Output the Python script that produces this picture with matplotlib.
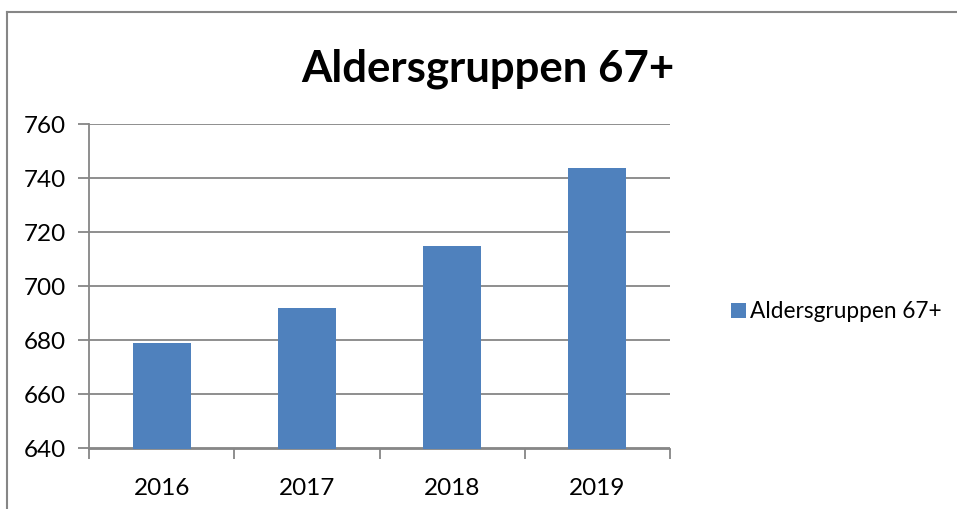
import matplotlib
matplotlib.use("Agg")
import matplotlib.pyplot as plt
from matplotlib.lines import Line2D

years = ["2016", "2017", "2018", "2019"]
values = [679, 692, 715, 744]
series_name = "Aldersgruppen 67+"
y_ticks = [640, 660, 680, 700, 720, 740, 760]

plt.rcParams['font.family'] = ['Lato', 'DejaVu Sans']

fig = plt.figure(figsize=(9.57, 5.09), dpi=100)
ax = fig.add_axes([89.3 / 957, 1 - 448.5 / 509, (670 - 89.3) / 957, (448.5 - 124.3) / 509])

x = list(range(len(years)))
ax.bar(x, values, width=0.4, color="#4F81BD", label=series_name, zorder=3)

ax.set_xlim(-0.5, len(years) - 0.5)
ax.set_ylim(y_ticks[0], y_ticks[-1])
ax.set_yticks(y_ticks)
ax.set_yticklabels([str(t) for t in y_ticks], fontsize=17.5)
ax.yaxis.grid(True, color="#868686", linewidth=1.3, zorder=0)

# category ticks sit on the boundaries, labels in the middle
ax.set_xticks([i - 0.5 for i in range(len(years) + 1)])
ax.set_xticklabels([])
ax.set_xticks(x, minor=True)
ax.set_xticklabels(years, minor=True, fontsize=17.5)
ax.tick_params(axis="x", which="major", length=7, width=1.3, color="#868686", direction="out")
ax.tick_params(axis="x", which="minor", length=0, pad=21)
ax.tick_params(axis="y", length=8, width=1.3, color="#868686", pad=9)

for side in ["top", "right"]:
    ax.spines[side].set_visible(False)
for side in ["left", "bottom"]:
    ax.spines[side].set_color("#868686")
    ax.spines[side].set_linewidth(1.3)

fig.text(488 / 957, 1 - 69 / 509, series_name, fontsize=31.5, fontweight="bold",
         ha="center", va="center")

leg = fig.legend(loc="center left", bbox_to_anchor=(731 / 957, 1 - 312 / 509),
                 frameon=False, fontsize=16.3, handlelength=0.65, handleheight=0.65,
                 handletextpad=0.2, borderpad=0, borderaxespad=0)

# outer chart frame (only top and left visible in the crop)
fig.add_artist(Line2D([7 / 957, 1], [1 - 12 / 509, 1 - 12 / 509], color="#868686", linewidth=1.5))
fig.add_artist(Line2D([7 / 957, 7 / 957], [0, 1 - 12 / 509], color="#868686", linewidth=1.5))

fig.savefig("out.png", dpi=100)
